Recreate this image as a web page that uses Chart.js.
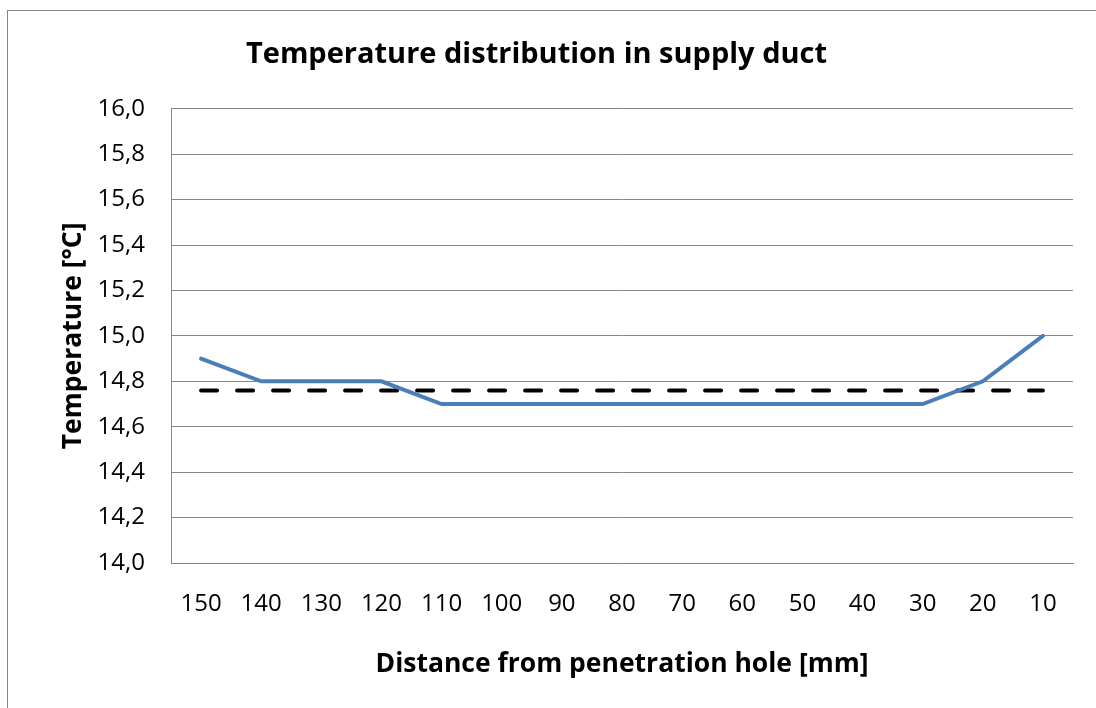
<!DOCTYPE html>
<html>
<head>
<meta charset="utf-8">
<script src="https://cdn.jsdelivr.net/npm/chart.js@4/dist/chart.umd.min.js"></script>
<style>
  html, body { margin: 0; padding: 0; background: #fff; }
  #wrap { position: relative; width: 1096px; height: 708px; overflow: hidden; }
  #frame { position: absolute; left: 7px; top: 10px; width: 1200px; height: 800px; border: 1px solid #878787; }
  #lineChart { position: absolute; left: 0; top: 0; }
</style>
</head>
<body>
<div id="wrap">
  <div id="frame"></div>
  <canvas id="lineChart" width="1096" height="708"></canvas>
</div>
<script>
const distances = ["150", "140", "130", "120", "110", "100", "90", "80", "70", "60", "50", "40", "30", "20", "10"];
const temperature = [14.9, 14.8, 14.8, 14.8, 14.7, 14.7, 14.7, 14.7, 14.7, 14.7, 14.7, 14.7, 14.7, 14.8, 15.0];
const average = [14.76, 14.76, 14.76, 14.76, 14.76, 14.76, 14.76, 14.76, 14.76, 14.76, 14.76, 14.76, 14.76, 14.76, 14.76];
const yMin = 14.0;
const yMax = 16.0;
const yStep = 0.2;

document.addEventListener("DOMContentLoaded", () => {
  const lineChart = document.querySelector("#lineChart");
  const font = "'Open Sans', 'Liberation Sans', sans-serif";

  new Chart(lineChart, {
    type: "line",
    data: {
      labels: distances,
      datasets: [
        {
          label: "Temperature",
          data: temperature,
          borderColor: "#4a7ebb",
          borderWidth: 4,
          pointRadius: 0,
          tension: 0,
          borderCapStyle: "round",
        },
        {
          label: "Average",
          data: average,
          borderColor: "#000000",
          borderWidth: 4,
          borderDash: [16, 20],
          borderCapStyle: "round",
          pointRadius: 0,
        },
      ],
    },
    options: {
      responsive: false,
      animation: false,
      layout: { padding: { left: 0, right: 23, top: 0, bottom: 0 } },
      plugins: {
        legend: { display: false },
        tooltip: { enabled: false },
        title: {
          display: true,
          text: "Temperature distribution in supply duct",
          color: "#000",
          font: { family: font, size: 29, weight: "bold" },
          padding: { top: 37, bottom: 37 },
        },
      },
      scales: {
        x: {
          offset: true,
          grid: { display: false, drawTicks: false },
          border: { display: true, color: "#878787", width: 1 },
          ticks: {
            color: "#000",
            font: { family: font, size: 24 },
            padding: 27,
            maxRotation: 0,
            autoSkip: false,
          },
          title: {
            display: true,
            text: "Distance from penetration hole [mm]",
            color: "#000",
            font: { family: font, size: 26.5, weight: "bold" },
            padding: { top: 0, bottom: 28 },
          },
          afterFit: (scale) => { scale.height = 145; },
        },
        y: {
          min: yMin,
          max: yMax,
          grid: { color: "#878787", lineWidth: 1, drawTicks: false },
          border: { display: true, color: "#878787", width: 1 },
          ticks: {
            stepSize: yStep,
            color: "#000",
            font: { family: font, size: 24 },
            padding: 26,
            callback: (v) => v.toFixed(1).replace(".", ","),
          },
          title: {
            display: true,
            text: "Temperature [°C]",
            color: "#000",
            font: { family: font, size: 26.5, weight: "bold" },
            padding: { top: 58, bottom: 0 },
          },
          afterFit: (scale) => { scale.width = 171; },
        },
      },
    },
  });
});
</script>
</body>
</html>
